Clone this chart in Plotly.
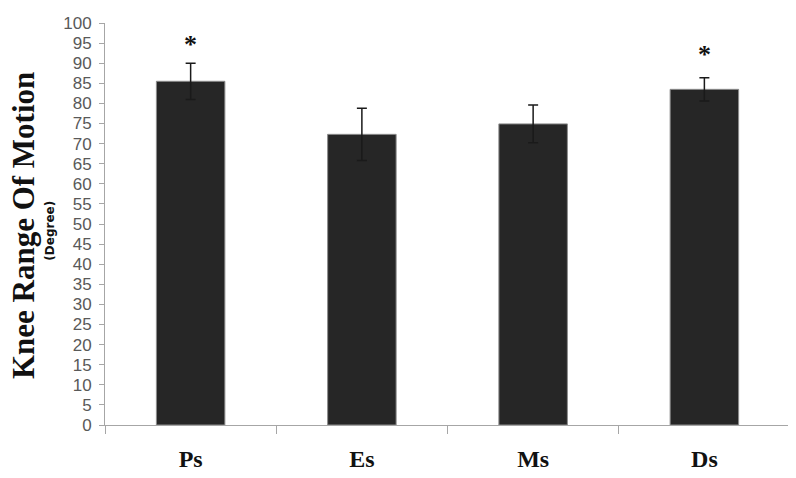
import plotly.graph_objects as go

# knee range of motion per group (degrees)
groups = ["Ps", "Es", "Ms", "Ds"]
means = [85.5, 72.3, 74.9, 83.5]
errors = [4.5, 6.5, 4.7, 2.9]
stars = ["*", "", "", "*"]
star_y = [94.9, 0, 0, 92.5]

fig = go.Figure()

fig.add_trace(go.Bar(
    x=groups,
    y=means,
    width=0.4,
    marker=dict(color="#262626", line=dict(color="#8c8c8c", width=1)),
    error_y=dict(type="data", array=errors, color="#1a1a1a", thickness=1.5, width=5),
    showlegend=False,
))

# significance markers above the error bars
for g, s, sy in zip(groups, stars, star_y):
    if s:
        fig.add_annotation(
            x=g, y=sy, yshift=-1, text="<b>" + s + "</b>", showarrow=False,
            yanchor="middle",
            font=dict(family="Liberation Serif", size=26, color="#111111"),
        )

# y axis title in two parts, like the original
fig.add_annotation(
    xref="paper", yref="paper", x=-0.119, y=0.496,
    xanchor="center", yanchor="middle", textangle=-90, showarrow=False,
    text="<b>Knee Range Of Motion</b>", borderpad=0,
    font=dict(family="Liberation Serif", size=31, color="#111111"),
)
fig.add_annotation(
    xref="paper", yref="paper", x=-0.08, y=0.484,
    xanchor="center", yanchor="middle", textangle=-90, showarrow=False,
    text="<b>(Degree)</b>",
    font=dict(family="DejaVu Sans", size=12, color="#111111"),
)

# the page has an 8px body margin, so the figure is a bit smaller than the window
fig.update_layout(
    width=788, height=470,
    margin=dict(l=97, r=6, t=6, b=52),
    plot_bgcolor="white",
    paper_bgcolor="white",
)
fig.update_xaxes(
    tickson="boundaries", ticks="outside", ticklen=8, tickcolor="#a6a6a6",
    showline=True, linecolor="#a6a6a6", linewidth=1,
    showgrid=False, range=[-0.5, 3.5],
    tickfont=dict(family="Liberation Serif", size=24, color="#111111", weight="bold"),
    ticklabelstandoff=12,
)
fig.update_yaxes(
    range=[0, 100], dtick=5, ticks="outside", ticklen=5, tickcolor="#a6a6a6",
    showline=True, linecolor="#a6a6a6", linewidth=1,
    showgrid=False, zeroline=False,
    tickfont=dict(family="Liberation Sans", size=17, color="#595959"),
    ticklabelstandoff=4, ticklabeloverflow="allow",
)

fig.write_html("out.html")
